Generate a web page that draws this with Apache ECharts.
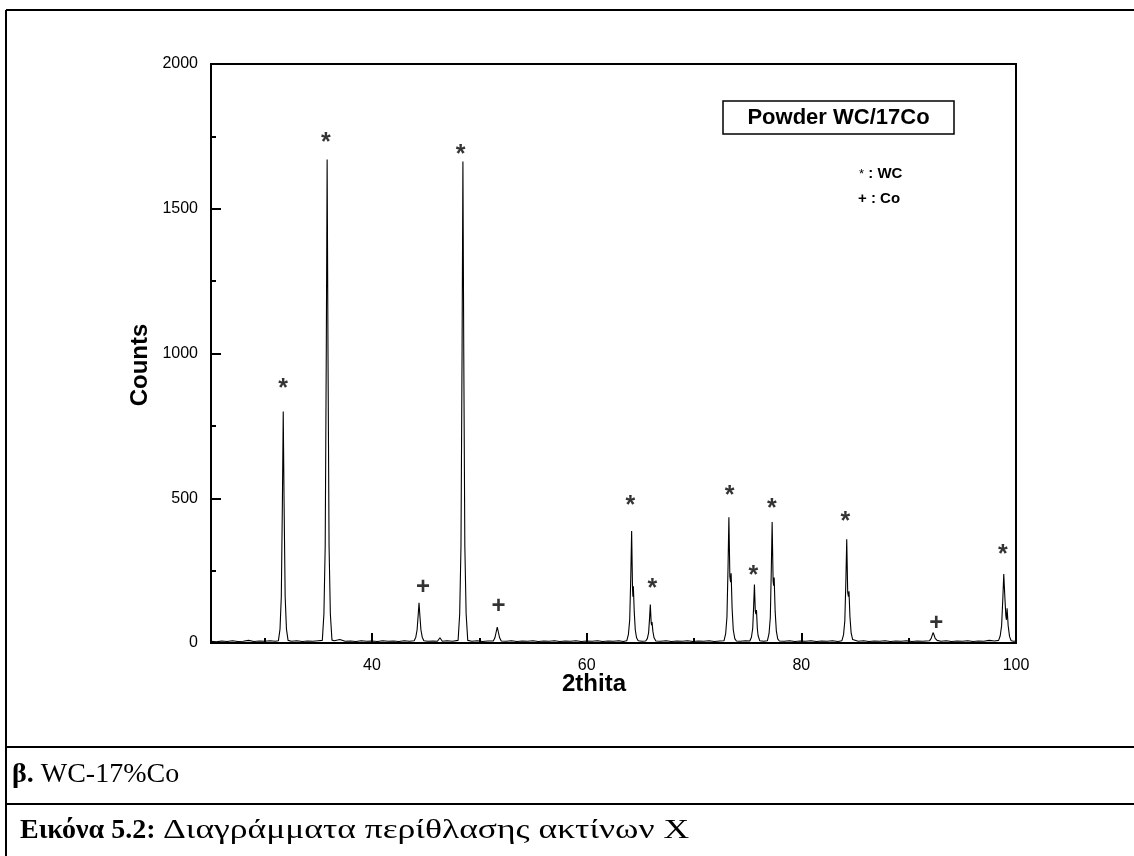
<!DOCTYPE html>
<html>
<head>
<meta charset="utf-8">
<script src="https://cdn.jsdelivr.net/npm/echarts@6/dist/echarts.min.js"></script>
<style>
html,body{margin:0;padding:0;background:#fff;}
#chart{width:1134px;height:856px;}
</style>
</head>
<body>
<div id="chart"></div>
<script>
// X-ray diffraction trace: [2theta, counts]
const xrdPattern = [
 [25,6],[25.5,4],[26,7],[26.5,5],[27,8],[27.5,5],[28,6],[28.5,9],[29,5],[29.5,7],[30,6],[30.5,8],[31,6],
 [31.28,8],[31.43,48],[31.55,160],[31.65,480],[31.73,800],[31.81,480],[31.91,160],[32.03,48],[32.18,9],
 [32.5,6],[33,8],[33.5,5],[34,7],[34.5,6],[35,8],
 [35.37,9],[35.52,100],[35.64,334],[35.74,1000],[35.82,1670],[35.9,1000],[36,334],[36.12,100],[36.27,10],
 [36.5,8],[37,12],[37.5,6],[38,7],[38.5,5],[39,8],[39.5,6],[40,7],[40.5,5],[41,8],[41.5,6],[42,7],[42.5,5],[43,8],[43.5,6],
 [43.93,8],[44.08,20],[44.2,45],[44.3,95],[44.38,139],[44.46,95],[44.56,45],[44.68,20],[44.83,8],
 [45.2,6],[45.7,7],[46.1,6],[46.33,18],[46.55,6],[47,8],[47.5,6],
 [48.02,9],[48.17,100],[48.29,333],[48.39,1000],[48.47,1663],[48.55,1000],[48.65,333],[48.77,100],[48.92,9],
 [49.3,6],[49.8,8],[50.3,5],[50.8,7],
 [51.3,7],[51.45,18],[51.57,38],[51.67,55],[51.77,38],[51.89,18],[52.04,7],
 [52.5,6],[53,8],[53.5,5],[54,7],[54.5,6],[55,8],[55.5,5],[56,7],[56.5,6],[57,8],[57.5,5],[58,7],[58.5,6],[59,8],[59.5,5],
 [60,7],[60.5,6],[61,8],[61.5,5],[62,7],[62.5,6],[63,8],[63.4,5],
 [63.74,8],[63.89,30],[64.01,80],[64.11,230],[64.19,387],[64.27,190],[64.31,160],[64.35,196],[64.43,110],[64.53,45],[64.65,18],[64.8,8],
 [65.15,6],
 [65.5,7],[65.65,15],[65.77,35],[65.86,85],[65.93,133],[66.01,70],[66.05,62],[66.09,72],[66.17,40],[66.28,18],[66.45,7],
 [66.9,6],[67.4,8],[67.9,5],[68.4,7],[68.9,6],[69.4,8],[69.9,5],[70.4,7],[70.9,6],[71.4,8],[71.9,5],[72.4,7],
 [72.8,8],[72.95,32],[73.07,90],[73.17,260],[73.25,434],[73.34,230],[73.41,210],[73.46,241],[73.55,120],[73.66,45],[73.8,15],[73.95,7],
 [74.3,6],[74.8,8],
 [75.2,7],[75.35,20],[75.47,50],[75.56,130],[75.63,202],[75.71,110],[75.77,100],[75.82,114],[75.9,50],[75.97,26],[76.03,24],[76.12,8],
 [76.5,6],
 [76.84,8],[76.99,32],[77.11,88],[77.2,250],[77.28,418],[77.37,215],[77.42,198],[77.47,226],[77.56,110],[77.67,42],[77.8,14],[77.95,7],
 [78.4,6],[78.9,8],[79.4,5],[79.9,7],[80.4,6],[80.9,8],[81.4,5],[81.9,7],[82.4,6],[82.9,8],[83.4,5],
 [83.78,8],[83.93,28],[84.05,75],[84.15,215],[84.23,358],[84.32,175],[84.39,160],[84.44,179],[84.53,90],[84.64,35],[84.78,12],[84.93,7],
 [85.3,6],[85.8,8],[86.3,5],[86.8,7],[87.3,6],[87.8,8],[88.3,5],[88.8,7],[89.3,6],[89.8,8],[90.3,5],[90.8,7],[91.3,6],
 [91.95,8],[92.1,16],[92.2,28],[92.29,36],[92.38,26],[92.47,16],[92.55,17],[92.65,9],
 [93,6],[93.5,8],[94,5],[94.5,7],[95,6],[95.5,8],[96,5],[96.5,7],[97,6],[97.5,9],[98,7],
 [98.38,9],[98.53,25],[98.66,60],[98.77,150],[98.86,238],[98.96,160],[99.05,95],[99.11,80],[99.17,120],[99.27,60],[99.4,22],[99.55,8],
 [99.8,6],[100,7]
];
// peak annotation marks (WC = '*', Co = '+'), positions
const wcMarks = [[31.73,886],[35.70,1738],[48.26,1697],[64.07,483],[66.12,197],[73.31,518],[75.54,242],[77.25,473],[84.10,428],[98.77,315]];
const coMarks = [[44.75,197],[51.79,131],[92.56,71]];
const xMajorTicks = [40,60,80,100];
const xMinorTicks = [30,50,70,90];
const yMinorTicks = [250,750,1250,1750];
const chartTitle = 'Powder WC/17Co';
const xName = '2thita';
const yName = 'Counts';
const caption1 = ['β.', ' WC-17%Co'];
const caption2 = ['Εικόνα 5.2:', 'Διαγράμματα περίθλασης ακτίνων Χ'];

const SANS = '"Liberation Sans", Arial, sans-serif';
const SERIF = '"Liberation Serif", "Times New Roman", serif';
const TRANSPARENT = 'rgba(0,0,0,0)';

const chart = echarts.init(document.getElementById('chart'), null, {renderer:'canvas'});
const option = {
  animation:false,
  backgroundColor:'#fff',
  grid:{left:211, top:64, width:805, height:579, show:true, borderColor:'#000', borderWidth:2, backgroundColor:'transparent'},
  xAxis:[{
    type:'value', min:25, max:100,
    axisLine:{show:true, onZero:false, lineStyle:{color:'#000', width:2}},
    axisTick:{show:true, inside:true, length:10, lineStyle:{color:'#000', width:2}, customValues:xMajorTicks},
    axisLabel:{show:true, margin:15, color:'#000', fontFamily:SANS, fontSize:16, customValues:xMajorTicks},
    splitLine:{show:false}
  },{
    type:'value', min:25, max:100, position:'bottom',
    axisLine:{show:false},
    axisTick:{show:true, inside:true, length:5, lineStyle:{color:'#000', width:2}, customValues:xMinorTicks},
    axisLabel:{show:false},
    splitLine:{show:false}
  }],
  yAxis:[{
    type:'value', min:0, max:2000, interval:500,
    axisLine:{show:true, lineStyle:{color:'#000', width:2}},
    axisTick:{show:true, inside:true, length:10, lineStyle:{color:'#000', width:2}},
    axisLabel:{margin:13, color:'#000', fontFamily:SANS, fontSize:16, formatter:(v)=>String(v)},
    splitLine:{show:false}
  },{
    type:'value', min:0, max:2000, position:'left',
    axisLine:{show:false},
    axisTick:{show:true, inside:true, length:5, lineStyle:{color:'#000', width:2}, customValues:yMinorTicks},
    axisLabel:{show:false},
    splitLine:{show:false}
  }],
  series:[
    {type:'line', data:xrdPattern, showSymbol:false, symbol:'none', lineStyle:{color:'#000', width:1.1}, z:3},
    {type:'scatter', data:wcMarks, symbolSize:1, itemStyle:{color:TRANSPARENT}, silent:true,
     label:{show:true, position:'inside', formatter:'*', fontFamily:SANS, fontWeight:'bold', fontSize:25, color:'#000', offset:[0,3]}, z:4},
    {type:'scatter', data:coMarks, symbolSize:1, itemStyle:{color:TRANSPARENT}, silent:true,
     label:{show:true, position:'inside', formatter:'+', fontFamily:SANS, fontWeight:'bold', fontSize:24, color:'#000', offset:[0,1]}, z:4}
  ],
  graphic:[
    // page borders / table lines
    {type:'line', shape:{x1:6, y1:10, x2:1134, y2:10}, style:{stroke:'#000', lineWidth:2}},
    {type:'line', shape:{x1:6, y1:10, x2:6, y2:856}, style:{stroke:'#000', lineWidth:2}},
    {type:'line', shape:{x1:6, y1:747, x2:1134, y2:747}, style:{stroke:'#000', lineWidth:2}},
    {type:'line', shape:{x1:6, y1:804, x2:1134, y2:804}, style:{stroke:'#000', lineWidth:2}},
    // title box
    {type:'rect', shape:{x:723, y:101, width:231, height:33}, style:{fill:'#fff', stroke:'#000', lineWidth:1.5}, z:10},
    {type:'text', x:838.5, y:118, z:11, style:{text:chartTitle, font:'bold 22px '+SANS, fill:'#000', textAlign:'center', textVerticalAlign:'middle'}},
    // symbol legend
    {type:'text', x:859, y:174, z:11, style:{text:'{a|*} : WC', font:'bold 15px '+SANS, fill:'#000', textVerticalAlign:'middle', rich:{a:{font:'13px '+SANS}}}},
    {type:'text', x:858, y:199, z:11, style:{text:'+ : Co', font:'bold 15px '+SANS, fill:'#000', textVerticalAlign:'middle'}},
    // axis names
    {type:'text', x:140, y:365, rotation:Math.PI/2, z:11, style:{text:yName, font:'bold 24px '+SANS, fill:'#000', textAlign:'center', textVerticalAlign:'middle'}},
    {type:'text', x:594, y:684, z:11, style:{text:xName, font:'bold 24px '+SANS, fill:'#000', textAlign:'center', textVerticalAlign:'middle'}},
    // captions
    {type:'text', x:12, y:775, z:11, style:{text:'{b|'+caption1[0]+'}'+caption1[1], font:'28px '+SERIF, fill:'#000', textVerticalAlign:'middle', rich:{b:{font:'bold 28px '+SERIF}}}},
    {type:'text', x:20, y:831, z:11, style:{text:caption2[0], font:'bold 28px '+SERIF, fill:'#000', textVerticalAlign:'middle'}},
    {type:'text', x:163, y:831, scaleX:1.27, z:11, style:{text:caption2[1], font:'28px '+SERIF, fill:'#000', textVerticalAlign:'middle'}}
  ]
};
chart.setOption(option);
</script>
</body>
</html>
